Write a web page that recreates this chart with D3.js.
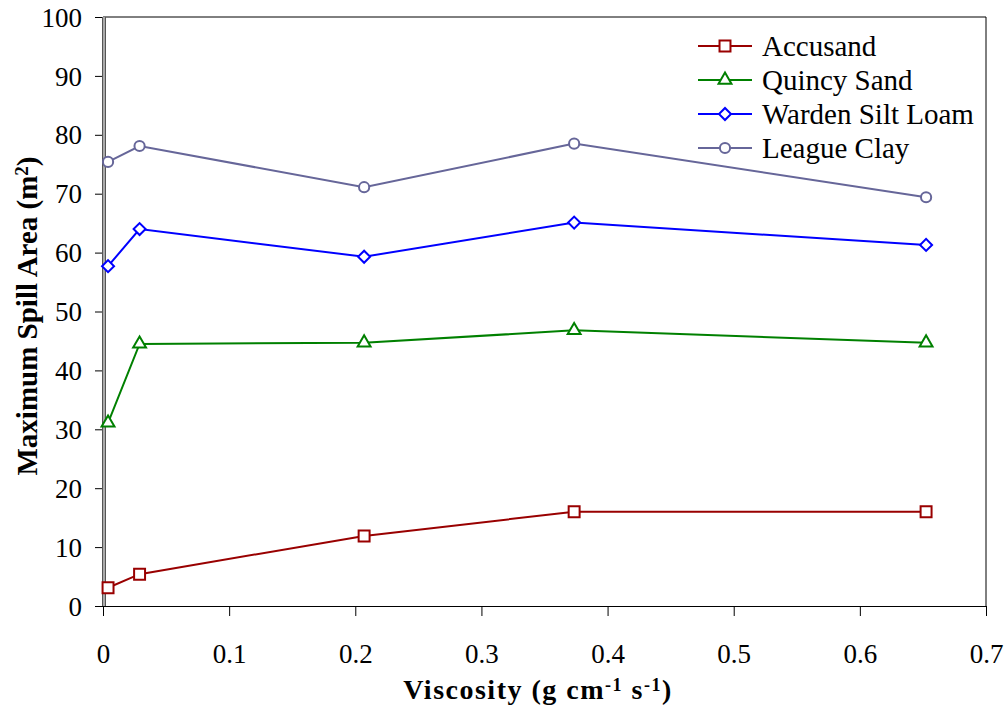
<!DOCTYPE html>
<html>
<head>
<meta charset="utf-8">
<script src="https://cdn.jsdelivr.net/npm/d3@7"></script>
</head>
<body style="margin:0;background:#fff">
<svg id="chart" width="1008" height="713" font-family="Liberation Serif"></svg>
<script>
const viscosity = [0.004, 0.029, 0.207, 0.3735, 0.6525];
const accusand = [3.1, 5.4, 11.9, 16.0, 16.0];
const quincySand = [31.1, 44.5, 44.7, 46.8, 44.7];
const wardenSiltLoam = [57.7, 64.0, 59.3, 65.1, 61.3];
const leagueClay = [75.4, 78.1, 71.1, 78.5, 69.4];
const seriesNames = ['Accusand', 'Quincy Sand', 'Warden Silt Loam', 'League Clay'];
const xTicks = [0, 0.1, 0.2, 0.3, 0.4, 0.5, 0.6, 0.7];
const yTicks = [0, 10, 20, 30, 40, 50, 60, 70, 80, 90, 100];

const width = 1008;
const height = 713;
const margin = { top: 17, right: 22, bottom: 107, left: 103 };
const serif = 'Liberation Serif';

const series = [
  { name: seriesNames[0], values: accusand, color: '#990000', shape: 'square' },
  { name: seriesNames[1], values: quincySand, color: '#008000', shape: 'triangle' },
  { name: seriesNames[2], values: wardenSiltLoam, color: '#0000ff', shape: 'diamond' },
  { name: seriesNames[3], values: leagueClay, color: '#666699', shape: 'circle' }
];

const svg = d3.select('#chart');

const x = d3.scaleLinear().domain([0, 0.7]).range([margin.left, width - margin.right]);
const y = d3.scaleLinear().domain([0, 100]).range([height - margin.bottom, margin.top]);

// plot frame (top + right)
svg.append('path')
  .attr('d', `M${x(0)},${y(100)}H${x(0.7)}V${y(0)}`)
  .attr('fill', 'none')
  .attr('stroke', '#000')
  .attr('stroke-width', 1);

const xAxis = svg.append('g')
  .attr('transform', `translate(0,${y(0)})`)
  .call(d3.axisBottom(x).tickValues(xTicks).tickSize(10).tickPadding(28)
    .tickFormat(d => d === 0 ? '0' : d3.format('.1f')(d)));
xAxis.attr('font-family', serif).attr('font-size', 27);
xAxis.selectAll('text').attr('fill', '#000');
xAxis.select('.domain').attr('stroke', '#000');

const yAxis = svg.append('g')
  .attr('transform', `translate(${x(0)},0)`)
  .call(d3.axisLeft(y).tickValues(yTicks).tickSize(8).tickPadding(13));
yAxis.attr('font-family', serif).attr('font-size', 27);
yAxis.selectAll('text').attr('fill', '#000').attr('dy', '0.34em');
yAxis.select('.domain').remove();

// gray thick left axis line
svg.append('line')
  .attr('x1', x(0) + 1).attr('x2', x(0) + 1)
  .attr('y1', y(100)).attr('y2', y(0))
  .attr('stroke', '#555').attr('stroke-width', 4);
svg.append('line')
  .attr('x1', x(0) + 1).attr('x2', x(0) + 1)
  .attr('y1', y(100)).attr('y2', y(0))
  .attr('stroke', '#aaa').attr('stroke-width', 2);

const symbolFor = {
  square: d3.symbol().type(d3.symbolSquare).size(120),
  triangle: d3.symbol().type(d3.symbolTriangle).size(72),
  diamond: d3.symbol().type(d3.symbolSquare).size(72),
  circle: d3.symbol().type(d3.symbolCircle).size(82)
};

const drawMarker = (g, s, cx, cy) => {
  const p = g.append('path')
    .attr('d', symbolFor[s.shape]())
    .attr('fill', '#fff')
    .attr('stroke', s.color)
    .attr('stroke-width', 2);
  if (s.shape === 'diamond') p.attr('transform', `translate(${cx},${cy}) rotate(45)`);
  else p.attr('transform', `translate(${cx},${cy})`);
};

const line = d3.line().x((d, i) => x(viscosity[i])).y(d => y(d));

series.forEach(s => {
  svg.append('path')
    .attr('d', line(s.values))
    .attr('fill', 'none')
    .attr('stroke', s.color)
    .attr('stroke-width', 2);
  const g = svg.append('g');
  s.values.forEach((v, i) => drawMarker(g, s, x(viscosity[i]), y(v)));
});

// legend
const legend = svg.append('g');
series.forEach((s, i) => {
  const ly = 46 + i * 34;
  legend.append('line')
    .attr('x1', 698).attr('x2', 752).attr('y1', ly).attr('y2', ly)
    .attr('stroke', s.color).attr('stroke-width', 2);
  drawMarker(legend, s, 725, ly);
  legend.append('text')
    .attr('x', 762).attr('y', ly)
    .attr('dy', '0.35em')
    .attr('font-family', serif)
    .attr('font-size', 29)
    .text(s.name);
});

// axis titles
const xTitle = svg.append('text')
  .attr('x', 538)
  .attr('y', 699)
  .attr('text-anchor', 'middle')
  .attr('font-family', serif)
  .attr('font-size', 28)
  .attr('letter-spacing', 1.5)
  .attr('font-weight', 'bold');
xTitle.append('tspan').text('Viscosity (g cm');
xTitle.append('tspan').attr('baseline-shift', '45%').attr('font-size', 18).text('-1');
xTitle.append('tspan').text(' s');
xTitle.append('tspan').attr('baseline-shift', '45%').attr('font-size', 18).text('-1');
xTitle.append('tspan').text(')');

const yTitle = svg.append('text')
  .attr('transform', `translate(37,316) rotate(-90)`)
  .attr('text-anchor', 'middle')
  .attr('font-family', serif)
  .attr('font-size', 29)
  .attr('font-weight', 'bold');
yTitle.append('tspan').text('Maximum Spill Area (m');
yTitle.append('tspan').attr('baseline-shift', '45%').attr('font-size', 19).text('2');
yTitle.append('tspan').text(')');
</script>
</body>
</html>
